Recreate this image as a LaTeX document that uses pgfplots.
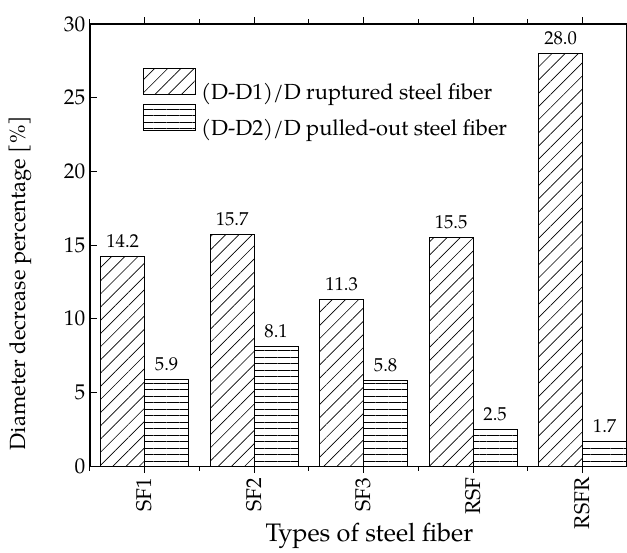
\documentclass[border=0pt]{standalone}
\usepackage{fontspec}
\setmainfont{TeX Gyre Pagella}
\usepackage{pgfplots}
\pgfplotsset{compat=1.18}
\usetikzlibrary{patterns.meta}
\begin{document}
\begin{tikzpicture}
\begin{axis}[
  scale only axis, width=402.75pt, height=332pt,
  xmin=-0.5, xmax=4.4, ymin=0, ymax=30,
  ytick={0,5,...,30}, ytick pos=left,
  xtick={0,1,2,3,4}, xticklabels={SF1,SF2,SF3,RSF,RSFR},
  minor xtick={-0.5,0.5,1.5,2.5,3.5},
  tick align=inside,
  major tick length=5pt, minor tick length=3.5pt,
  xticklabel style={rotate=90, anchor=east, font=\fontsize{16}{18}\selectfont},
  yticklabel style={font=\fontsize{16}{19}\selectfont},
  /pgf/number format/assume math mode=true,
  axis line style={line width=0.9pt},
  tick style={line width=0.8pt, black},
  xlabel={Types of steel fiber},
  ylabel={Diameter decrease percentage [\%]},
  xlabel style={font=\fontsize{19}{22}\selectfont, at={(axis description cs:0.521,-0.1694)}, anchor=base},
  ylabel style={font=\fontsize{16.5}{20}\selectfont, at={(axis description cs:-0.1006,0.414)}, anchor=south},
  ybar, bar width=33pt,
  nodes near coords={\pgfmathprintnumber[fixed,fixed zerofill,precision=1]{\pgfplotspointmeta}},
  nodes near coords style={font=\fontsize{14}{16}\selectfont, anchor=south, yshift=3pt},
  legend style={at={(axis description cs:0.0987,0.9006)}, anchor=north west, draw=none, fill=none,
    inner sep=0pt, font=\fontsize{16.4}{19}\selectfont, row sep=2.5pt,
    nodes={inner sep=0pt}, /tikz/every odd column/.append style={column sep=4pt}},
  legend cell align=left,
  legend image code/.code={\draw[#1, line width=0.6pt] (0pt,-2pt) rectangle (39pt,17.5pt);},
]
\addplot[draw=black, line width=0.6pt, bar shift=-16.5pt,
  pattern={Lines[angle=45, distance=7pt, line width=0.5pt]}]
  coordinates {(0,14.2) (1,15.7) (2,11.3) (3,15.5) (4,28.0)};
\addlegendentry{(D-D1)/D ruptured steel fiber}
\addplot[draw=black, line width=0.6pt, bar shift=16.5pt,
  pattern={Lines[angle=0, distance=4.9pt, line width=0.5pt]}]
  coordinates {(0,5.9) (1,8.1) (2,5.8) (3,2.5) (4,1.7)};
\addlegendentry{(D-D2)/D pulled-out steel fiber}
\end{axis}
\path (current axis.north west) ++(-67.5pt,18pt) coordinate (tl);
\path (current axis.south west) ++(-67.5pt,-60pt) coordinate (bl);
\end{tikzpicture}
\end{document}
